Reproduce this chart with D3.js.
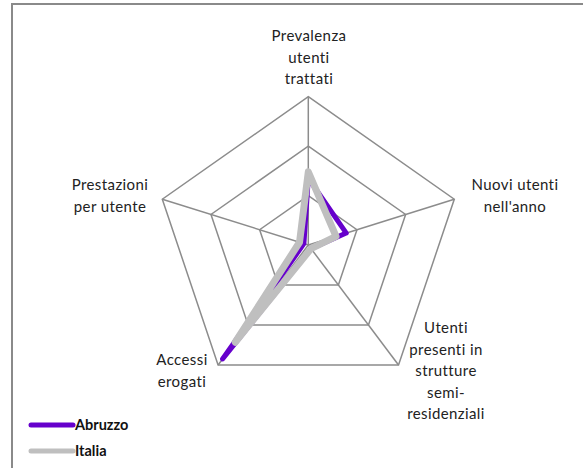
<!DOCTYPE html>
<html><head><meta charset="utf-8">
<script src="https://cdnjs.cloudflare.com/ajax/libs/d3/7.8.5/d3.min.js"></script>
<style>body{margin:0;background:#fff}svg{display:block}</style>
</head><body>
<svg id="chart" width="583" height="468"></svg>
<script>
const axes = [
  ["Prevalenza","utenti","trattati"],
  ["Nuovi utenti","nell'anno"],
  ["Utenti","presenti in","strutture","semi-","residenziali"],
  ["Accessi","erogati"],
  ["Prestazioni","per utente"]
];
const seriesNames = ["Abruzzo","Italia"];
const abruzzo = [13.5, 7.8, 0.9, 28.5, 0.9];
const italia  = [14.8, 5.7, 0.9, 24.3, 1.8];
const ringValues = [10, 20, 30];
const colors = ["#6600cc", "#bfbfbf"];

const svg = d3.select("#chart");
const cx = 308.3, cy = 245, Rx = 153.5, Ry = 148.3;
const r = d3.scaleLinear().domain([0, 30]).range([0, 1]);
const ang = d3.scaleLinear().domain([0, axes.length]).range([0, 2*Math.PI]);
const pt = (i, v) => [cx + Rx*r(v)*Math.sin(ang(i)), cy - Ry*r(v)*Math.cos(ang(i))];

// border
svg.append("line").attr("x1",11.5).attr("x2",583).attr("y1",4).attr("y2",4).attr("stroke","#8a8a8a").attr("stroke-width",2);
svg.append("line").attr("x1",12).attr("x2",12).attr("y1",3).attr("y2",468).attr("stroke","#8a8a8a").attr("stroke-width",2);

const g = svg.append("g");
const line = d3.line().curve(d3.curveLinearClosed);
ringValues.forEach(v => {
  g.append("path").attr("d", line(axes.map((a,i)=>pt(i,v))))
   .attr("fill","none").attr("stroke","#8c8c8c").attr("stroke-width",1.5);
});
axes.forEach((a,i)=>{
  const p = pt(i, 30);
  g.append("line").attr("x1",cx).attr("y1",cy).attr("x2",p[0]).attr("y2",p[1])
   .attr("stroke","#8c8c8c").attr("stroke-width",1.5);
});

[abruzzo, italia].forEach((s,k)=>{
  g.append("path").attr("d", line(s.map((v,i)=>pt(i,v))))
   .attr("fill","none").attr("stroke",colors[k]).attr("stroke-width", k===0?5:7)
   .attr("stroke-linejoin","round").attr("stroke-linecap","round");
});

// labels
const labelPos = [[309,41],[515,190],[446,333],[182,365],[110,190]];
const font = "Lato, 'Open Sans', sans-serif";
axes.forEach((lines,i)=>{
  const t = svg.append("text").attr("text-anchor","middle")
    .attr("font-family",font).attr("font-size",15).attr("letter-spacing",0.4).attr("fill","#222");
  lines.forEach((l,j)=>{
    t.append("tspan").attr("x",labelPos[i][0]).attr("y",labelPos[i][1]+j*21.5).text(l);
  });
});

// legend
seriesNames.forEach((n,k)=>{
  const y = 425 + k*26;
  svg.append("line").attr("x1",31).attr("x2",73).attr("y1",y).attr("y2",y)
    .attr("stroke",colors[k]).attr("stroke-width",5).attr("stroke-linecap","round");
  svg.append("text").attr("x",75).attr("y",y+5).attr("font-family",font)
    .attr("font-weight","bold").attr("font-size",14.5).attr("fill","#111").text(n);
});
</script>
</body></html>
